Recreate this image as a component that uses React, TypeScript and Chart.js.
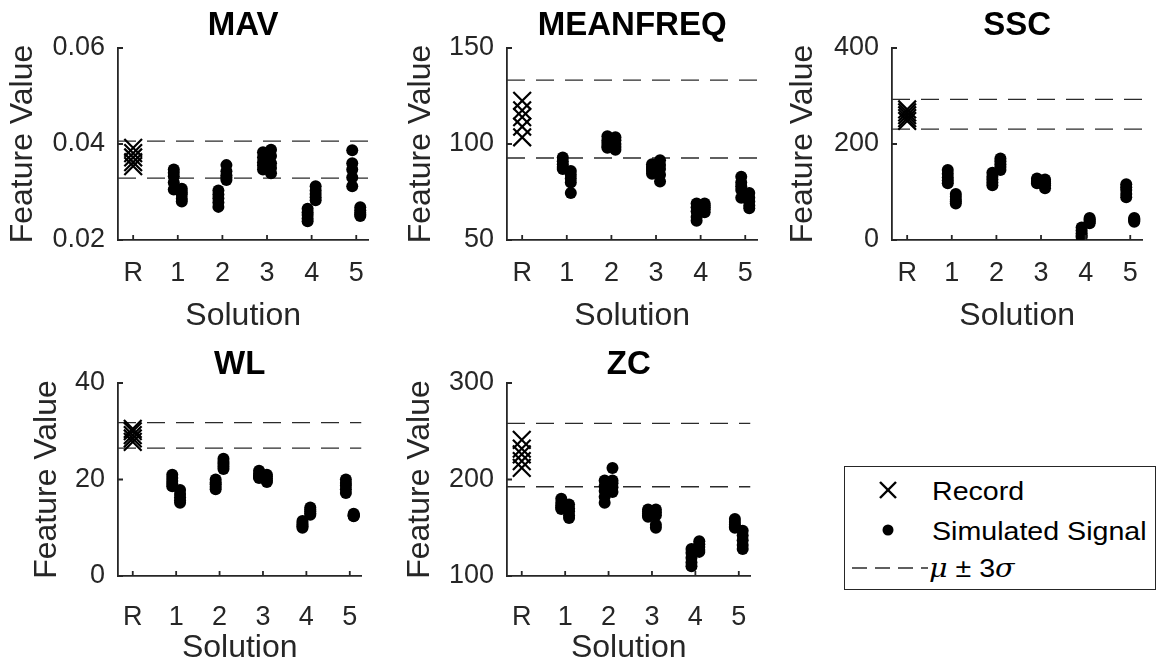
import React, { useEffect, useRef } from 'react';
import { Chart, registerables } from 'chart.js';

Chart.register(...registerables);

// ---- shared axis data ----
const SOLUTION_TICKS = [0, 1, 2, 3, 4, 5];
const SOLUTION_LABELS = ['R', '1', '2', '3', '4', '5'];
const X_LIMITS = [-0.34, 5.27];
// horizontal position of the two simulated-signal groups around each solution
const GROUP_OFFSETS = [-0.09, 0.09];

// ---- MAV ----
const MAV_RECORD = [0.0392, 0.0381, 0.0372, 0.0362, 0.0354];
const MAV_SIM_A = [
  [0.0347, 0.034, 0.0333, 0.032, 0.0305],
  [0.0303, 0.0295, 0.0287, 0.0278, 0.0269],
  [0.0383, 0.0372, 0.0362, 0.0355, 0.0347],
  [0.0265, 0.0258, 0.0252, 0.0245, 0.0239],
  [0.0387, 0.036, 0.0347, 0.033, 0.0312],
];
const MAV_SIM_B = [
  [0.0307, 0.03, 0.0295, 0.0286, 0.028],
  [0.0356, 0.0343, 0.0335, 0.033, 0.0325],
  [0.0388, 0.0375, 0.036, 0.035, 0.0339],
  [0.0312, 0.0303, 0.0296, 0.0289, 0.0283],
  [0.0268, 0.0262, 0.0257, 0.0253, 0.025],
];
const MAV_LIMITS = [0.0329, 0.0406];
const MAV_TICKS = [0.02, 0.04, 0.06];
const MAV_TICK_LABELS = ['0.02', '0.04', '0.06'];

// ---- MEANFREQ ----
const MEANFREQ_RECORD = [122.5, 117.5, 114, 109, 103.5];
const MEANFREQ_SIM_A = [
  [93, 91, 89.5, 88, 87],
  [104, 102, 100.5, 99, 98],
  [89.5, 88, 87, 86, 84.5],
  [69, 67, 65, 62, 60],
  [83, 80, 78, 76, 72],
];
const MEANFREQ_SIM_B = [
  [86, 84, 82, 80, 74.5],
  [103.5, 102, 100, 98.5, 97],
  [91.5, 89, 87, 84, 80.5],
  [69, 68, 67, 66, 64.5],
  [74.5, 72, 70, 68, 66.5],
];
const MEANFREQ_LIMITS = [92.7, 133.3];
const MEANFREQ_TICKS = [50, 100, 150];
const MEANFREQ_TICK_LABELS = ['50', '100', '150'];

// ---- SSC ----
const SSC_RECORD = [272, 266, 260, 254, 248];
const SSC_SIM_A = [
  [146, 138, 130, 124, 118],
  [140, 132, 126, 120, 114],
  [128, 125, 122, 120, 118],
  [26, 20, 14, 9, 6],
  [116, 110, 104, 96, 89],
];
const SSC_SIM_B = [
  [96, 90, 84, 80, 76],
  [170, 164, 158, 152, 146],
  [126, 122, 118, 114, 108],
  [46, 43, 40, 38, 35],
  [46, 44, 42, 40, 38],
];
const SSC_LIMITS = [231, 293];
const SSC_TICKS = [0, 200, 400];
const SSC_TICK_LABELS = ['0', '200', '400'];

// ---- WL ----
const WL_RECORD = [30.5, 30, 29.2, 28.5, 27.8];
const WL_SIM_A = [
  [21, 20.3, 19.7, 19.1, 18.6],
  [20, 19.4, 19, 18.5, 18],
  [21.8, 21.2, 20.8, 20.5, 20.3],
  [11.4, 11, 10.6, 10.3, 10],
  [20, 19.3, 18.7, 18, 17.2],
];
const WL_SIM_B = [
  [17.8, 17, 16.3, 15.7, 15.2],
  [24.3, 23.7, 23.2, 22.7, 22.2],
  [21, 20.6, 20.2, 19.8, 19.5],
  [14.2, 13.8, 13.4, 13, 12.7],
  [12.9, 12.7, 12.6, 12.5, 12.4],
];
const WL_LIMITS = [26.5, 31.8];
const WL_TICKS = [0, 20, 40];
const WL_TICK_LABELS = ['0', '20', '40'];

// ---- ZC ----
const ZC_RECORD = [241, 232, 226, 219, 212];
const ZC_SIM_A = [
  [180, 176, 173, 171, 169.5],
  [199, 193, 188, 182, 176],
  [169, 167, 165, 163, 161.5],
  [128, 124, 119, 114, 110],
  [159, 156, 153, 151, 150],
];
const ZC_SIM_B = [
  [174, 170, 167, 163, 160],
  [212, 199, 196, 192, 187],
  [169, 166, 163, 153, 150],
  [136, 133, 130, 127, 125],
  [147, 142, 137, 132, 128],
];
const ZC_LIMITS = [192.5, 258.2];
const ZC_TICKS = [100, 200, 300];
const ZC_TICK_LABELS = ['100', '200', '300'];

// ---- styling ----
const FONT = '"Liberation Sans", Arial, Helvetica, sans-serif';
const TEXT_COLOR = '#262626';
const AXIS_COLOR = '#262626';
const AXIS_WIDTH = 1.8;
const TICK_LEN = 5;
const TICK_FONT = 27;
const LABEL_FONT = 32;
const TITLE_FONT = 33;
const LEGEND_FONT = 26;
const Y_AXIS_SPACE = 118;
const TITLE_SPACE = 48;
const X_AXIS_SPACE = 95;
const AXIS_WIDTH_PX = 263;
const RIGHT_PAD = 2;

type PanelCfg = {
  title: string;
  record: number[];
  simA: number[][];
  simB: number[][];
  limits: number[];
  ticks: number[];
  tickLabels: string[];
  left: number;
  top: number;
  height: number;
  yTitleGap: number;
  xTickPad: number;
  xTitlePad: number;
  titleGap: number;
};

const PANELS: PanelCfg[] = [
  { title: 'MAV', record: MAV_RECORD, simA: MAV_SIM_A, simB: MAV_SIM_B, limits: MAV_LIMITS, ticks: MAV_TICKS, tickLabels: MAV_TICK_LABELS, left: 118, top: 48, height: 192, yTitleGap: 95, xTickPad: 17, xTitlePad: 0, titleGap: 22 },
  { title: 'MEANFREQ', record: MEANFREQ_RECORD, simA: MEANFREQ_SIM_A, simB: MEANFREQ_SIM_B, limits: MEANFREQ_LIMITS, ticks: MEANFREQ_TICKS, tickLabels: MEANFREQ_TICK_LABELS, left: 507, top: 48, height: 192, yTitleGap: 86, xTickPad: 17, xTitlePad: 0, titleGap: 22 },
  { title: 'SSC', record: SSC_RECORD, simA: SSC_SIM_A, simB: SSC_SIM_B, limits: SSC_LIMITS, ticks: SSC_TICKS, tickLabels: SSC_TICK_LABELS, left: 892, top: 48, height: 192, yTitleGap: 89, xTickPad: 17, xTitlePad: 0, titleGap: 22 },
  { title: 'WL', record: WL_RECORD, simA: WL_SIM_A, simB: WL_SIM_B, limits: WL_LIMITS, ticks: WL_TICKS, tickLabels: WL_TICK_LABELS, left: 118, top: 383, height: 193, yTitleGap: 71, xTickPad: 25, xTitlePad: 4, titleGap: 18 },
  { title: 'ZC', record: ZC_RECORD, simA: ZC_SIM_A, simB: ZC_SIM_B, limits: ZC_LIMITS, ticks: ZC_TICKS, tickLabels: ZC_TICK_LABELS, left: 507, top: 383, height: 193, yTitleGap: 87, xTickPad: 25, xTitlePad: 4, titleGap: 18 },
];

// MATLAB-style tick marks that point into the axes
const inwardTicks = {
  id: 'inwardTicks',
  afterDatasetsDraw(chart: any) {
    const { ctx, chartArea, scales } = chart;
    ctx.save();
    ctx.strokeStyle = AXIS_COLOR;
    ctx.lineWidth = AXIS_WIDTH;
    ctx.beginPath();
    scales.x.ticks.forEach((t: any) => {
      const px = scales.x.getPixelForValue(t.value);
      ctx.moveTo(px, chartArea.bottom);
      ctx.lineTo(px, chartArea.bottom - TICK_LEN);
    });
    scales.y.ticks.forEach((t: any) => {
      const py = scales.y.getPixelForValue(t.value);
      ctx.moveTo(chartArea.left, py);
      ctx.lineTo(chartArea.left + TICK_LEN, py);
    });
    ctx.stroke();
    ctx.restore();
  },
};

// bold title centred over the axes
const panelTitle = {
  id: 'panelTitle',
  afterDraw(chart: any, _args: any, opts: any) {
    const { ctx, chartArea } = chart;
    ctx.save();
    ctx.font = `bold ${TITLE_FONT}px ${FONT}`;
    ctx.fillStyle = '#000';
    ctx.textAlign = 'center';
    ctx.textBaseline = 'middle';
    ctx.fillText(opts.text, (chartArea.left + chartArea.right) / 2, chartArea.top - opts.gap);
    ctx.restore();
  },
};

function buildDatasets(cfg: PanelCfg) {
  const simPoints = (groups: number[][], offset: number) =>
    groups.flatMap((vals, i) => vals.map((y) => ({ x: SOLUTION_TICKS[i + 1] + offset, y })));
  const limitLine = (v: number) => ({
    type: 'line' as const,
    data: [
      { x: X_LIMITS[0], y: v },
      { x: X_LIMITS[1], y: v },
    ],
    borderColor: '#2b2b2b',
    borderWidth: 1.3,
    borderDash: [18, 11],
    pointRadius: 0,
    fill: false,
  });
  return [
    {
      label: 'Record',
      data: cfg.record.map((y) => ({ x: SOLUTION_TICKS[0], y })),
      pointStyle: 'crossRot',
      pointRadius: 12.5,
      borderColor: '#000',
      borderWidth: 2.2,
      backgroundColor: 'transparent',
    },
    {
      label: 'Simulated Signal',
      data: simPoints(cfg.simA, GROUP_OFFSETS[0]),
      pointStyle: 'circle',
      pointRadius: 6,
      backgroundColor: '#000',
      borderWidth: 0,
    },
    {
      label: 'Simulated Signal',
      data: simPoints(cfg.simB, GROUP_OFFSETS[1]),
      pointStyle: 'circle',
      pointRadius: 6,
      backgroundColor: '#000',
      borderWidth: 0,
    },
    limitLine(cfg.limits[0]),
    limitLine(cfg.limits[1]),
  ];
}

function Panel({ cfg }: { cfg: PanelCfg }) {
  const ref = useRef<HTMLCanvasElement>(null);
  const width = Y_AXIS_SPACE + AXIS_WIDTH_PX + RIGHT_PAD;
  const height = TITLE_SPACE + cfg.height + X_AXIS_SPACE;

  useEffect(() => {
    const labelFontLine = LABEL_FONT * 1.2;
    const chart = new Chart(ref.current!, {
      type: 'scatter',
      data: { datasets: buildDatasets(cfg) as any },
      plugins: [inwardTicks, panelTitle],
      options: {
        responsive: false,
        maintainAspectRatio: false,
        animation: false,
        devicePixelRatio: 1,
        layout: { padding: { top: TITLE_SPACE, right: RIGHT_PAD, left: 0, bottom: 0 } },
        plugins: {
          legend: { display: false },
          tooltip: { enabled: false },
          panelTitle: { text: cfg.title, gap: cfg.titleGap },
        } as any,
        scales: {
          x: {
            type: 'linear',
            min: X_LIMITS[0],
            max: X_LIMITS[1],
            afterBuildTicks: (s: any) => {
              s.ticks = SOLUTION_TICKS.map((v) => ({ value: v }));
            },
            afterFit: (s: any) => {
              s.height = X_AXIS_SPACE;
            },
            grid: { display: false, drawTicks: false },
            border: { display: true, color: AXIS_COLOR, width: AXIS_WIDTH },
            ticks: {
              autoSkip: false,
              maxRotation: 0,
              padding: cfg.xTickPad,
              color: TEXT_COLOR,
              font: { family: FONT, size: TICK_FONT },
              callback: (v: any) => SOLUTION_LABELS[SOLUTION_TICKS.indexOf(Math.round(Number(v)))],
            },
            title: {
              display: true,
              text: 'Solution',
              color: TEXT_COLOR,
              font: { family: FONT, size: LABEL_FONT },
              padding: { top: 0, bottom: cfg.xTitlePad },
            },
          },
          y: {
            type: 'linear',
            min: cfg.ticks[0],
            max: cfg.ticks[cfg.ticks.length - 1],
            afterBuildTicks: (s: any) => {
              s.ticks = cfg.ticks.map((v) => ({ value: v }));
            },
            afterFit: (s: any) => {
              s.width = Y_AXIS_SPACE;
            },
            grid: { display: false, drawTicks: false },
            border: { display: true, color: AXIS_COLOR, width: AXIS_WIDTH },
            ticks: {
              autoSkip: false,
              padding: 13,
              color: TEXT_COLOR,
              font: { family: FONT, size: TICK_FONT },
              callback: (v: any) => cfg.tickLabels[cfg.ticks.indexOf(Number(v))] ?? '',
            },
            title: {
              display: true,
              text: 'Feature Value',
              color: TEXT_COLOR,
              font: { family: FONT, size: LABEL_FONT },
              padding: { top: Y_AXIS_SPACE - cfg.yTitleGap - labelFontLine / 2, bottom: 0 },
            },
          },
        },
      },
    });
    return () => chart.destroy();
  }, [cfg]);

  return (
    <canvas
      ref={ref}
      width={width}
      height={height}
      style={{
        position: 'absolute',
        left: cfg.left - Y_AXIS_SPACE,
        top: cfg.top - TITLE_SPACE,
        width,
        height,
      }}
    />
  );
}

function Legend() {
  const row: React.CSSProperties = {
    position: 'absolute',
    left: 87,
    height: 30,
    lineHeight: '30px',
    fontFamily: FONT,
    fontSize: LEGEND_FONT,
    color: '#000',
    whiteSpace: 'nowrap',
    transform: 'scaleX(1.1)',
    transformOrigin: 'left center',
  };
  const mathItalic: React.CSSProperties = { fontFamily: '"DejaVu Serif", serif', fontStyle: 'italic' };
  return (
    <div
      style={{
        position: 'absolute',
        left: 844,
        top: 466,
        width: 312,
        height: 124,
        boxSizing: 'border-box',
        border: '1px solid #262626',
        background: '#fff',
      }}
    >
      <svg width={312} height={124} style={{ position: 'absolute', left: -1, top: -1 }}>
        <g stroke="#000" strokeWidth={2.4}>
          <line x1={36} y1={16} x2={52} y2={32} />
          <line x1={52} y1={16} x2={36} y2={32} />
        </g>
        <circle cx={44} cy={64} r={5.5} fill="#000" />
        <line x1={8} y1={102} x2={84} y2={102} stroke="#2b2b2b" strokeWidth={1.3} strokeDasharray="15 8" />
      </svg>
      <div style={{ ...row, top: 9 }}>Record</div>
      <div style={{ ...row, top: 49 }}>Simulated Signal</div>
      <div style={{ ...row, top: 86, left: 84 }}>
        <span style={mathItalic}>μ</span>
        <span> ± 3</span>
        <span style={mathItalic}>σ</span>
      </div>
    </div>
  );
}

export default function App() {
  return (
    <div
      style={{
        position: 'absolute',
        left: 0,
        top: 0,
        width: 1157,
        height: 666,
        background: '#fff',
        overflow: 'hidden',
      }}
    >
      {PANELS.map((p) => (
        <Panel key={p.title} cfg={p} />
      ))}
      <Legend />
    </div>
  );
}
